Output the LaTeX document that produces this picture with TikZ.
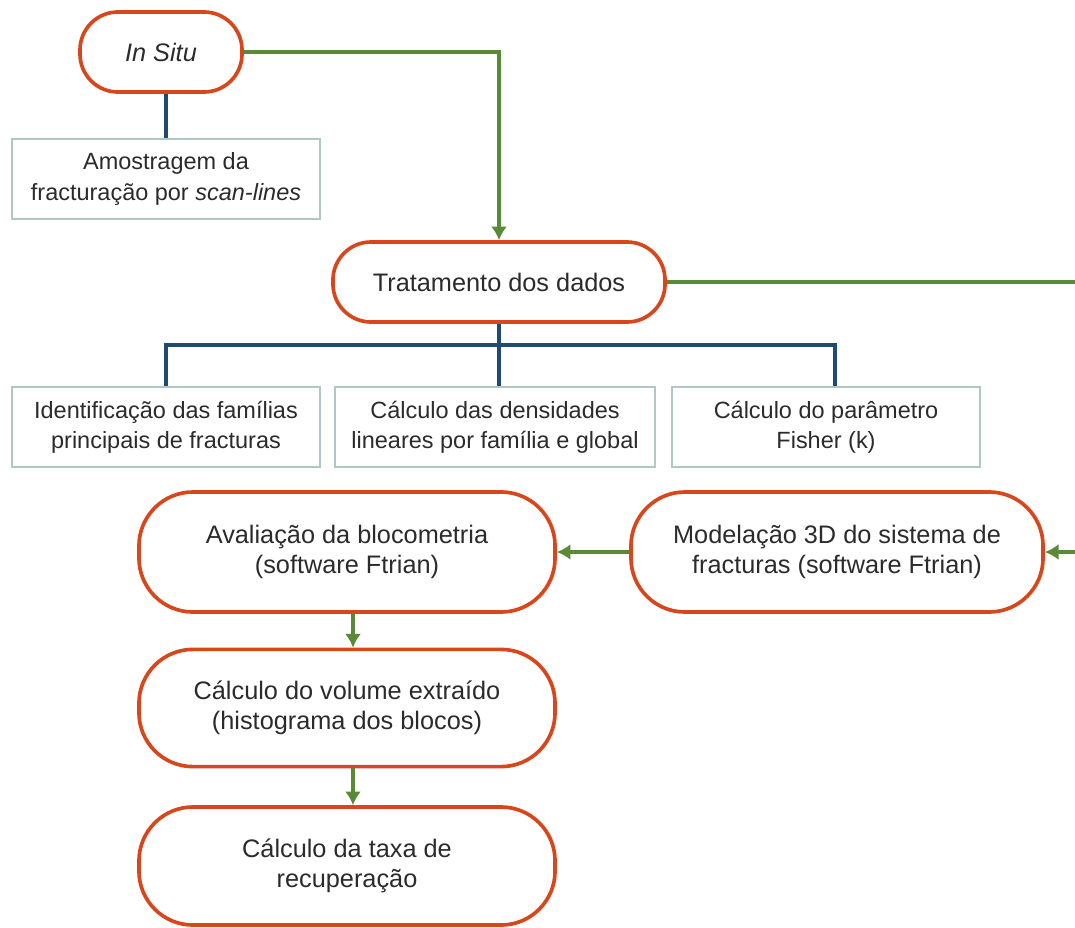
\documentclass[tikz,border=0pt]{standalone}
\usepackage{fontspec}
\setmainfont{Liberation Sans}
\usetikzlibrary{arrows.meta}

\definecolor{redline}{HTML}{D8461B}
\definecolor{greenline}{HTML}{5A8A35}
\definecolor{blueline}{HTML}{1F4B73}
\definecolor{boxline}{HTML}{AFC8C3}
\definecolor{textgrey}{HTML}{2B2B2B}

\begin{document}
\begin{tikzpicture}[x=0.025cm,y=-0.025cm,
  >={Latex[length=0.34cm,width=0.4cm]},
  font=\fontsize{18}{21.5}\selectfont,text=textgrey,
  step box/.style={draw=redline,line width=2.6pt,rounded corners=1.35cm,
    align=center,inner sep=0pt,minimum height=3cm},
  data box/.style={draw=boxline,line width=1.3pt,align=center,inner sep=0pt,
    minimum height=1.98cm,font=\fontsize{16.7}{21.5}\selectfont},
  flow/.style={draw=greenline,line width=2.4pt},
  tree/.style={draw=blueline,line width=3pt}]

\useasboundingbox (0,0) rectangle (1075,927);

% input stage
\node[step box,minimum width=4.05cm,minimum height=2cm,rounded corners=0.95cm] (insitu) at (161,52) {\itshape In Situ};
\node[data box,minimum width=7.7cm,minimum height=2cm] (amostr) at (166,179) {Amostragem da\\fractura\c{c}\~ao por \textit{scan-lines}};

\node[step box,minimum width=8.3cm,minimum height=2cm,rounded corners=0.95cm] (trat) at (499,282) {Tratamento dos dados};

% data treatment
\node[data box,minimum width=7.7cm] (ident) at (166,427) {Identifica\c{c}\~ao das fam\'ilias\\principais de fracturas};
\node[data box,minimum width=8cm] (dens) at (495,427) {C\'alculo das densidades\\lineares por fam\'ilia e global};
\node[data box,minimum width=7.7cm] (fisher) at (826,427) {C\'alculo do par\^ametro\\Fisher (k)};

% modelling
\node[step box,minimum width=10.3cm] (model) at (837,552) {Modela\c{c}\~ao 3D do sistema de\\fracturas (software Ftrian)};
\node[step box,minimum width=10.4cm] (aval) at (347,552) {Avalia\c{c}\~ao da blocometria\\(software Ftrian)};
\node[step box,minimum width=10.4cm,minimum height=2.93cm] (volume) at (347,708) {C\'alculo do volume extra\'ido\\(histograma dos blocos)};
\node[step box,minimum width=10.4cm,minimum height=2.95cm] (taxa) at (347,866) {C\'alculo da taxa de\\recupera\c{c}\~ao};

\coordinate (bus) at (499,345);
\coordinate (edge) at (1090,282);

\draw[tree] (insitu.south -| amostr.north) -- (amostr.north);
\draw[tree] (trat.south) -- (bus);
\draw[tree] (ident.north) |- (bus) -| ([xshift=0.22cm]fisher.north);
\draw[tree] (bus) -- (bus |- dens.north);

\draw[flow,->] (insitu.east) -| (trat.north);
\draw[flow,->] (trat.east) -- (edge) |- (model.east);
\draw[flow,->] (model.west) -- (aval.east);
\draw[flow,->] ([xshift=0.15cm]aval.south) -- ([xshift=0.15cm]volume.north);
\draw[flow,->] ([xshift=0.15cm]volume.south) -- ([xshift=0.15cm]taxa.north);

\end{tikzpicture}
\end{document}
